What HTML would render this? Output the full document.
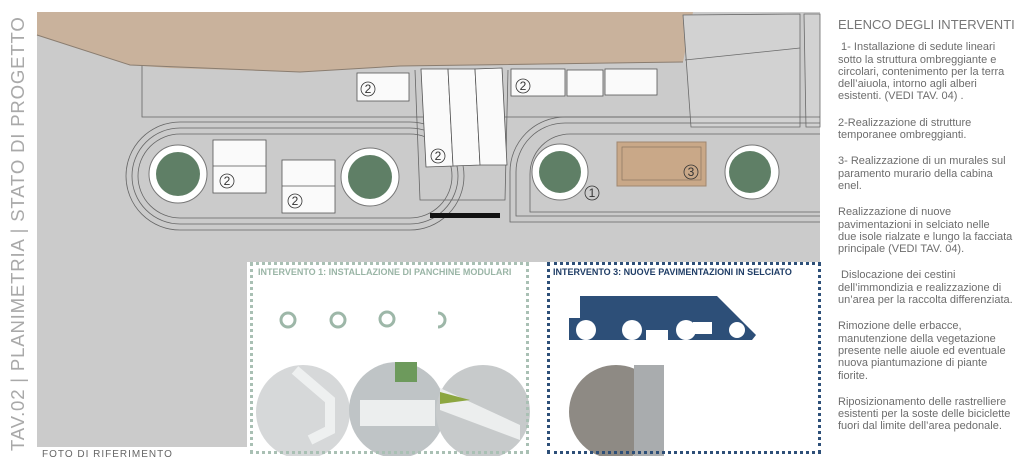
<!DOCTYPE html>
<html><head><meta charset="utf-8"><style>
html,body{margin:0;padding:0;background:#fff;width:1024px;height:456px;overflow:hidden;font-family:"Liberation Sans",sans-serif}
.vt{position:absolute;left:7px;top:451px;transform-origin:0 0;transform:rotate(-90deg);font-size:18.6px;color:#a9a9a9;letter-spacing:0.8px;white-space:nowrap;font-weight:300}
.rt{position:absolute;left:838px;top:19px;width:186px;color:#6d6d6d;font-size:11px;line-height:12.3px;white-space:nowrap}
.rt h1{font-size:13px;font-weight:normal;margin:0 0 10px;color:#777}
.rt p{margin:0 0 14px}
.b{position:absolute;top:262px;height:186px;border:3px dotted}
.t{position:absolute;font-size:9px;font-weight:bold;white-space:nowrap}
.ft{position:absolute;left:42px;top:449px;font-size:10px;color:#666;letter-spacing:1px}
</style></head><body>
<svg width="1024" height="456" style="position:absolute;left:0;top:0">
<rect x="37" y="12" width="783" height="250" fill="#cbcbcb"/>
<rect x="37" y="262" width="210" height="185" fill="#cbcbcb"/>
<polygon points="37,12 693,12 683,62 510,65 400,66 300,72 170,68 130,65 37,35" fill="#c9b29c"/>
<polyline points="37,35 130,65 300,72 400,66 683,62" fill="none" stroke="#8a7d70" stroke-width="1"/>
<g fill="#d2d2d2" stroke="#6a6a6a" stroke-width="0.8">
<polygon points="683,15 800,14 800,127 691,127"/>
<line x1="685" y1="60" x2="800" y2="48"/>
<polygon points="804,14 820,14 820,127 806,127"/>
</g>
<g fill="none" stroke="#666" stroke-width="0.8">
<polyline points="142,66 142,117 690,117"/>
<path d="M180,122 H410 A54,54 0 0 1 410,230 H180 A54,54 0 0 1 180,122 Z"/>
<path d="M180,128 H410 A48,48 0 0 1 410,224 H180 A48,48 0 0 1 180,128 Z"/>
<path d="M180,134 H410 A42,42 0 0 1 410,218 H180 A42,42 0 0 1 180,134 Z"/>
<path d="M820,117 H565 A55,55 0 0 0 510,172 V222 H820"/>
<path d="M820,123 H565 A49,49 0 0 0 516,172 V216 H820"/>
<path d="M820,134 H570 A40,40 0 0 0 530,174 V212 H820"/>
<polyline points="415,70 420,200 505,200 508,70"/>
</g>
<g stroke="#555" stroke-width="0.8" fill="#fafafa">
<rect x="213" y="140" width="53" height="53"/><line x1="213" y1="166" x2="266" y2="166"/>
<rect x="282" y="160" width="53" height="53"/><line x1="282" y1="186" x2="335" y2="186"/>
<rect x="357" y="73" width="52" height="28"/>
<polygon points="421,69 448,69 453,166 426,167"/><polygon points="448,69 475,69 480,165 453,166"/><polygon points="475,69 502,68 507,165 480,165"/>
<rect x="511" y="69" width="54" height="27"/><rect x="567" y="70" width="36" height="26"/><rect x="605" y="69" width="52" height="26"/>
</g>
<rect x="617" y="142" width="89" height="44" fill="#c9a888" stroke="#a08770"/>
<rect x="622" y="147" width="79" height="33" fill="none" stroke="#8a7560" stroke-width=".7"/>
<rect x="430" y="213" width="70" height="5" fill="#111"/>
<g>
<circle cx="178" cy="174" r="29" fill="#fff" stroke="#777"/><circle cx="178" cy="174" r="22" fill="#5f7f66"/>
<circle cx="370" cy="177" r="29" fill="#fff" stroke="#777"/><circle cx="370" cy="177" r="22" fill="#5f7f66"/>
<circle cx="560" cy="172" r="28" fill="#fff" stroke="#777"/><circle cx="560" cy="172" r="21" fill="#5f7f66"/>
<circle cx="752" cy="172" r="27" fill="#fff" stroke="#777"/><circle cx="750" cy="172" r="21" fill="#5f7f66"/>
</g>
<g font-size="12" fill="#333" font-family="Liberation Sans" text-anchor="middle">
<g fill="none" stroke="#333" stroke-width=".8"><circle cx="227" cy="181" r="7"/><circle cx="295" cy="201" r="7"/><circle cx="368" cy="89" r="7"/><circle cx="438" cy="156" r="7"/><circle cx="523" cy="86" r="7"/><circle cx="592" cy="193" r="7"/><circle cx="691" cy="172" r="7"/></g>
<text x="227" y="185">2</text><text x="295" y="205">2</text><text x="368" y="93">2</text><text x="438" y="160">2</text><text x="523" y="90">2</text><text x="592" y="197">1</text><text x="691" y="176">3</text>
</g>
<polygon points="580,296 717,296 756,335 752,340 569,340 569,318 580,318" fill="#2d4f78"/>
<g fill="#fff"><circle cx="586" cy="330" r="10"/><circle cx="632" cy="330" r="10"/><circle cx="686" cy="330" r="10"/><circle cx="737" cy="330" r="8"/><rect x="693" y="322" width="19" height="12"/><rect x="646" y="330" width="22" height="12"/></g>
<g fill="none" stroke="#9db7a8" stroke-width="3"><circle cx="288" cy="320" r="7"/><circle cx="338" cy="320" r="7"/><circle cx="387" cy="319" r="7"/><path d="M438,313 A7,7 0 0 1 438,327"/></g>
<circle cx="303" cy="412" r="47" fill="#d6d8d9"/><path d="M295,370 L330,400 L330,430 L310,440" fill="none" stroke="#eef0f0" stroke-width="10"/>
<circle cx="397" cy="410" r="48" fill="#bfc4c6"/><rect x="360" y="400" width="75" height="26" fill="#eceeee"/><rect x="395" y="362" width="22" height="20" fill="#6d9a5c"/>
<circle cx="483" cy="412" r="47" fill="#c7cacb"/><polygon points="440,388 520,425 520,440 440,410" fill="#eceeee"/><polygon points="440,392 470,400 440,404" fill="#8ca640"/>
<circle cx="616" cy="412" r="47" fill="#8e8a84"/><rect x="634" y="365" width="30" height="95" fill="#a9acae"/>
</svg>
<div class="vt">TAV.02 | PLANIMETRIA | STATO DI PROGETTO</div>
<div class="b" style="left:250px;width:273px;border-color:#a9c0b4"></div>
<div class="t" style="left:258px;top:267px;color:#9ab5a6">INTERVENTO 1: INSTALLAZIONE DI PANCHINE MODULARI</div>
<div class="b" style="left:547px;width:268px;border-color:#2d4f78"></div>
<div class="t" style="left:553px;top:267px;color:#1f3d66">INTERVENTO 3: NUOVE PAVIMENTAZIONI IN SELCIATO</div>
<div class="ft">FOTO DI RIFERIMENTO</div>
<div class="rt">
<h1>ELENCO DEGLI INTERVENTI</h1>
<p>&nbsp;1- Installazione di sedute lineari<br>sotto la struttura ombreggiante e<br>circolari, contenimento per la terra<br>dell’aiuola, intorno agli alberi<br>esistenti. (VEDI TAV. 04) .</p>
<p>2-Realizzazione di strutture<br>temporanee ombreggianti.</p>
<p>3- Realizzazione di un murales sul<br>paramento murario della cabina<br>enel.</p>
<p>Realizzazione di nuove<br>pavimentazioni in selciato nelle<br>due isole rialzate e lungo la facciata<br>principale (VEDI TAV. 04).</p>
<p>&nbsp;Dislocazione dei cestini<br>dell’immondizia e realizzazione di<br>un’area per la raccolta differenziata.</p>
<p>Rimozione delle erbacce,<br>manutenzione della vegetazione<br>presente nelle aiuole ed eventuale<br>nuova piantumazione di piante<br>fiorite.</p>
<p>Riposizionamento delle rastrelliere<br>esistenti per la soste delle biciclette<br>fuori dal limite dell’area pedonale.</p>
</div>
</body></html>
